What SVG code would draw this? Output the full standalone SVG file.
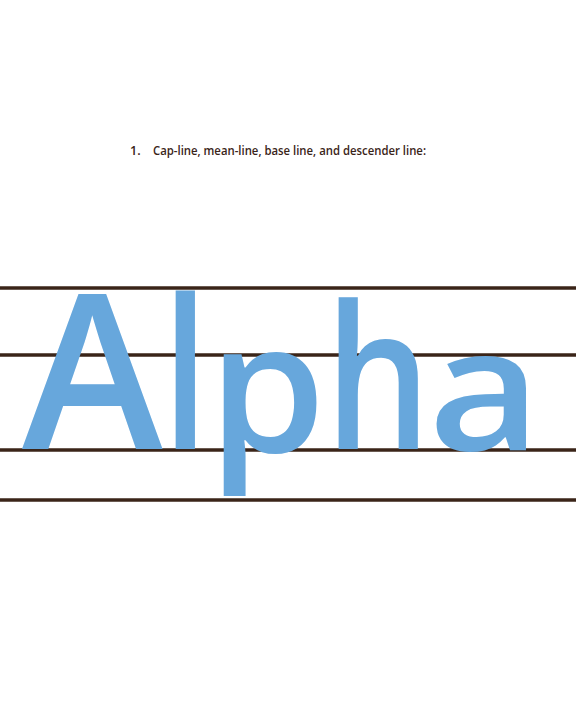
<svg xmlns="http://www.w3.org/2000/svg" width="576" height="720" viewBox="0 0 576 720">
<style>
.title{font-family:"Open Sans","Liberation Sans",sans-serif;font-size:12.5px;font-weight:600;fill:#3a2418}
.big{font-family:"Open Sans","Liberation Sans",sans-serif;font-size:100px;font-weight:600;fill:#67a7dc}
.rule{stroke:#3a2418;stroke-width:3.6;fill:none}
</style>
<rect width="576" height="720" fill="#ffffff"/>
<g id="connectors">
<line class="rule" x1="0" y1="288" x2="576" y2="288"/>
<line class="rule" x1="0" y1="355" x2="576" y2="355"/>
<line class="rule" x1="0" y1="450" x2="576" y2="450"/>
<line class="rule" x1="0" y1="500" x2="576" y2="500"/>
</g>
<g id="title">
<text class="title" x="130" y="155">1.</text>
<text class="title" x="153" y="155" textLength="273" lengthAdjust="spacingAndGlyphs">Cap-line, mean-line, base line, and descender line:</text>
</g>
<g id="word">
<text class="big" transform="translate(21.9,449) scale(2.127,2.157)">A</text>
<text class="big" transform="translate(162,449) scale(1.67,2.093)">l</text>
<text class="big" transform="translate(208.3,452) scale(1.89,1.82)">p</text>
<text class="big" transform="translate(325,449) scale(1.666,2.0)">h</text>
<text class="big" transform="translate(428,450) scale(1.953,1.71)">a</text>
</g>
</svg>
